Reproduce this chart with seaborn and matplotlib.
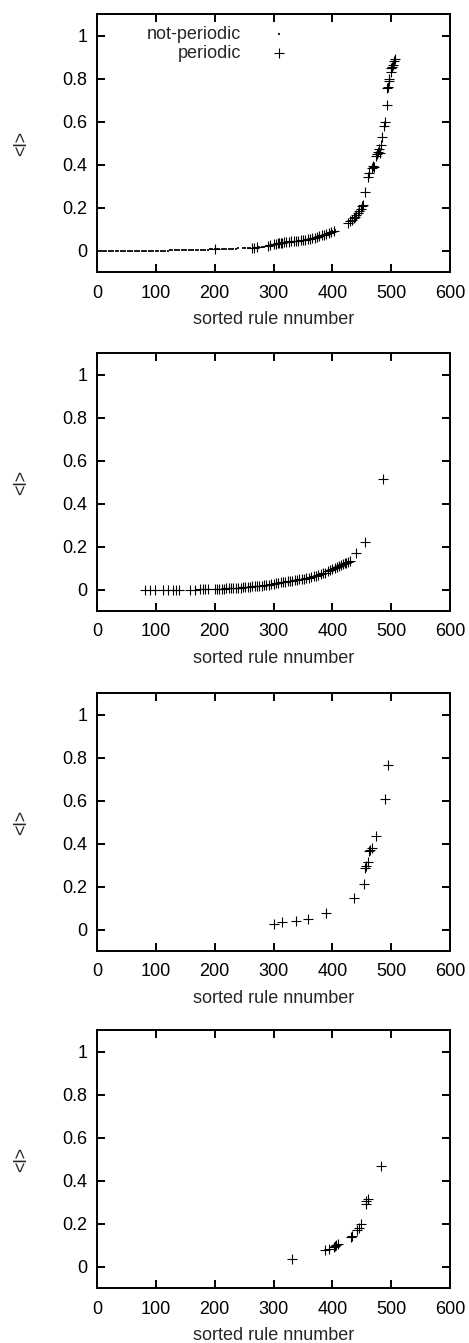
import numpy as np
import pandas as pd
import matplotlib
matplotlib.use("Agg")
import matplotlib.pyplot as plt
import seaborn as sns

# panel 1: not-periodic rules (dots)
np1_x = [0, 4, 8, 12, 16, 20, 24, 28, 32, 36, 40, 44, 48, 52, 56, 60, 64, 68, 72, 76,
         80, 84, 88, 92, 96, 100, 104, 108, 112, 116, 120, 124, 128, 132, 136, 140, 144,
         148, 152, 156, 160, 164, 168, 172, 176, 180, 184, 188, 192, 196, 200, 204, 208,
         212, 216, 220, 224, 228, 232, 236, 240, 248, 252, 256, 260, 276, 280, 284, 288,
         296, 320, 340, 360, 380, 400, 404]
np1_y = [0.0, 0.0, 0.0, 0.0, 0.0, 0.0, 0.0, 0.0, 0.0, 0.0, 0.0, 0.0, 0.0, 0.0, 0.0, 0.0,
         0.0, 0.0, 0.0, 0.0, 0.0, 0.0, 0.0, 0.0, 0.0, 0.0, 0.0, 0.0, 0.0, 0.0, 0.0,
         0.001, 0.001, 0.001, 0.001, 0.001, 0.002, 0.002, 0.002, 0.002, 0.002, 0.003,
         0.003, 0.003, 0.003, 0.004, 0.004, 0.004, 0.005, 0.005, 0.005, 0.006, 0.006,
         0.006, 0.007, 0.007, 0.008, 0.008, 0.009, 0.009, 0.010, 0.011, 0.011, 0.012,
         0.012, 0.016, 0.017, 0.018, 0.020, 0.027, 0.038, 0.045, 0.053, 0.068, 0.090, 0.094]

# panel 1: periodic rules
p1_x = [200, 263, 267, 272, 291, 294, 300, 304, 307, 309, 312, 315, 318, 322, 326, 330,
        334, 338, 342, 346, 350, 354, 358, 362, 366, 370, 374, 378, 382, 386, 390, 394,
        398, 402, 427, 430, 433, 436, 439, 441, 444, 446, 448, 450, 452, 455, 461, 463,
        467, 469, 471, 474, 476, 478, 479, 481, 483, 485, 487, 489, 493, 493, 495, 496,
        497, 499, 500, 502, 503, 505, 506]
p1_y = [0.005, 0.013, 0.013, 0.014, 0.022, 0.025, 0.030, 0.032, 0.033, 0.035, 0.035,
        0.037, 0.038, 0.040, 0.040, 0.042, 0.043, 0.045, 0.046, 0.047, 0.048, 0.050,
        0.052, 0.055, 0.058, 0.060, 0.063, 0.066, 0.070, 0.074, 0.078, 0.083, 0.087,
        0.092, 0.130, 0.137, 0.142, 0.150, 0.158, 0.166, 0.175, 0.185, 0.195, 0.205,
        0.210, 0.270, 0.340, 0.360, 0.385, 0.395, 0.390, 0.440, 0.450, 0.460, 0.470,
        0.455, 0.490, 0.530, 0.580, 0.600, 0.675, 0.755, 0.760, 0.790, 0.800, 0.830,
        0.850, 0.855, 0.865, 0.880, 0.890]

# panel 2
p2_x = [82, 90, 99, 113, 121, 130, 135, 139, 158, 167, 175, 180, 184, 189, 200, 204, 208,
        212, 216, 220, 224, 228, 232, 236, 240, 244, 248, 252, 256, 260, 264, 268, 272,
        276, 280, 284, 288, 292, 296, 300, 304, 308, 312, 316, 320, 324, 328, 332, 336,
        340, 344, 348, 352, 356, 360, 364, 368, 372, 376, 380, 384, 388, 392, 396, 400,
        404, 408, 412, 415, 418, 421, 424, 427, 430, 441, 455, 486]
p2_y = [0.0, 0.0, 0.0, 0.0, 0.0, 0.0, 0.0, 0.0, 0.0, 0.0, 0.001, 0.001, 0.001, 0.001,
        0.002, 0.003, 0.003, 0.004, 0.004, 0.005, 0.005, 0.006, 0.007, 0.008, 0.008,
        0.009, 0.010, 0.011, 0.012, 0.013, 0.014, 0.015, 0.016, 0.017, 0.018, 0.020,
        0.021, 0.023, 0.025, 0.027, 0.029, 0.031, 0.033, 0.035, 0.036, 0.038, 0.040,
        0.041, 0.043, 0.045, 0.047, 0.049, 0.051, 0.053, 0.055, 0.058, 0.061, 0.064,
        0.068, 0.071, 0.075, 0.079, 0.084, 0.089, 0.094, 0.099, 0.104, 0.109, 0.113,
        0.117, 0.121, 0.124, 0.128, 0.132, 0.170, 0.220, 0.515]

# panel 3
p3_x = [301, 314, 338, 359, 390, 437, 454, 455, 457, 461, 463, 464, 467, 474, 490, 494]
p3_y = [0.025, 0.033, 0.041, 0.047, 0.075, 0.146, 0.210, 0.285, 0.297, 0.316, 0.363,
        0.370, 0.380, 0.433, 0.609, 0.766]

# panel 4
p4_x = [331, 388, 395, 402, 404, 406, 409, 431, 434, 442, 445, 448, 457, 458, 461, 482]
p4_y = [0.036, 0.076, 0.080, 0.090, 0.095, 0.102, 0.103, 0.135, 0.143, 0.169, 0.180,
        0.197, 0.293, 0.304, 0.312, 0.469]

x_ticks = [0, 100, 200, 300, 400, 500, 600]
y_ticks = [0, 0.2, 0.4, 0.6, 0.8, 1]
y_ticklabels = ["0", "0.2", "0.4", "0.6", "0.8", "1"]

sns.set_style("ticks")
plt.rcParams["font.family"] = ["Liberation Sans", "DejaVu Sans"]

fig = plt.figure(figsize=(4.69, 13.43), dpi=100)
W, H = 469, 1343
tops = [14, 353, 693, 1030]
ax_h = 258

periodic = [(p1_x, p1_y), (p2_x, p2_y), (p3_x, p3_y), (p4_x, p4_y)]

for i, (px, py) in enumerate(periodic):
    ax = fig.add_axes([97 / W, 1 - (tops[i] + ax_h) / H, 353 / W, ax_h / H])
    if i == 0:
        d0 = pd.DataFrame({"x": np1_x, "y": np1_y})
        sns.scatterplot(data=d0, x="x", y="y", ax=ax, marker="s", s=3.5, color="#222222",
                        linewidth=0, label="not-periodic")
    df = pd.DataFrame({"x": px, "y": py})
    sns.scatterplot(data=df, x="x", y="y", ax=ax, marker="+", s=45, color="black",
                    linewidth=0.8, label="periodic" if i == 0 else None)
    ax.set_xlim(0, 600)
    ax.set_ylim(-0.1, 1.1)
    ax.set_xticks(x_ticks)
    ax.set_yticks(y_ticks)
    ax.set_yticklabels(y_ticklabels)
    ax.tick_params(direction="in", length=6, width=1.4, top=True, right=True,
                   labelsize=13, colors="black")
    ax.tick_params(axis="x", pad=9)
    ax.tick_params(axis="y", pad=7)
    for sp in ax.spines.values():
        sp.set_visible(True)
        sp.set_linewidth(1.4)
        sp.set_color("black")
    ax.set_xlabel("sorted rule nnumber", fontsize=13)
    ax.set_ylabel("<l>", fontsize=13)
    ax.xaxis.set_label_coords(0.5, -0.15)
    ax.yaxis.set_label_coords(-0.19, 0.5)
    if i == 0:
        leg = ax.legend(loc="upper right", bbox_to_anchor=(0.592, 0.988), frameon=False,
                        markerfirst=False, fontsize=13, borderpad=0, labelspacing=0.1,
                        handlelength=2, handletextpad=1.1)
    else:
        if ax.get_legend() is not None:
            ax.get_legend().remove()

fig.savefig("out.png", dpi=100)
